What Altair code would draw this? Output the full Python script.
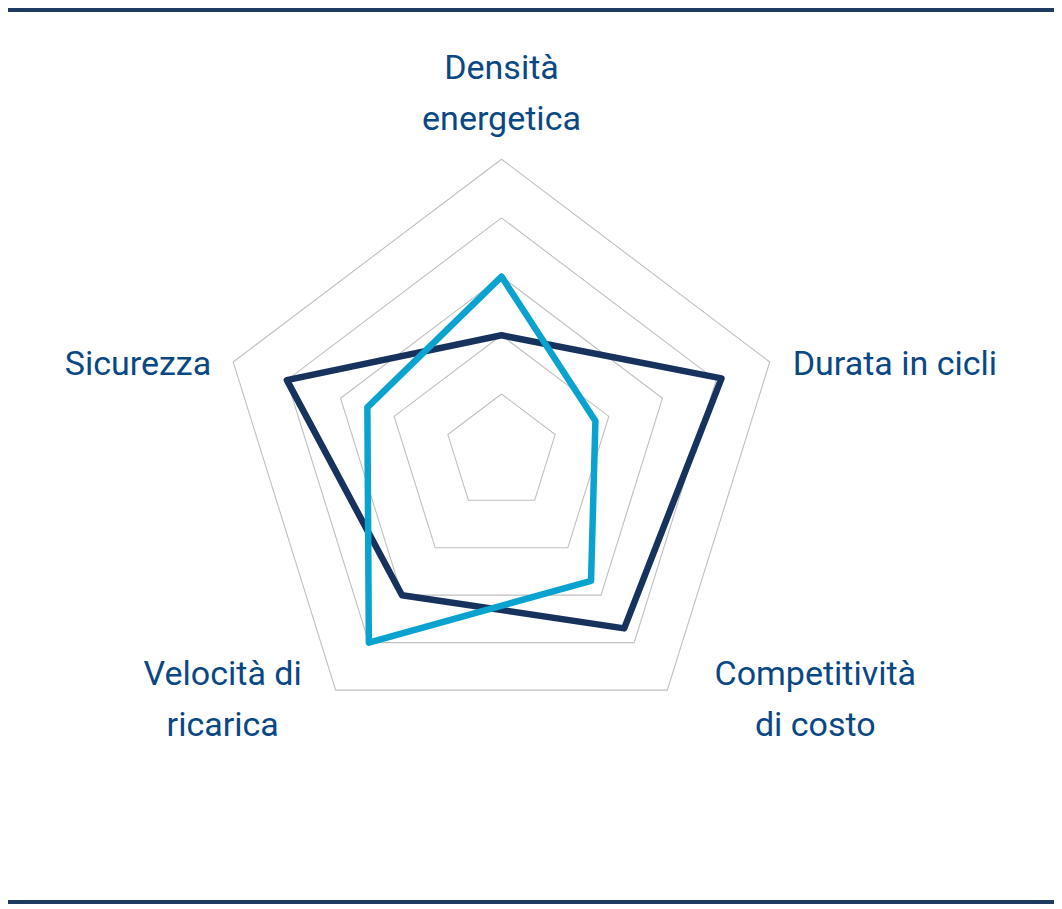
import math
import altair as alt
import pandas as pd

# ---- data ----
categories = ["Densità energetica", "Durata in cicli", "Competitività di costo",
              "Velocità di ricarica", "Sicurezza"]
label_text = ["Densità\nenergetica", "Durata in cicli", "Competitività\ndi costo",
              "Velocità di\nricarica", "Sicurezza"]
series_names = ["Serie A", "Serie B"]
series_a = [2.0, 4.1, 3.7, 3.0, 4.0]      # dark navy
series_b = [3.0, 1.75, 2.7, 4.0, 2.5]     # light blue
grid_levels = [1, 2, 3, 4, 5]

N = len(categories)

# ---- tables built from the arrays ----
rows = []
for name, vals in zip(series_names, [series_a, series_b]):
    for k in range(N + 1):
        rows.append({"series": name, "idx": k, "cat": categories[k % N],
                     "value": vals[k % N], "order": k})
series_df = pd.DataFrame(rows)

grid_rows = []
for lv in grid_levels:
    for k in range(N + 1):
        grid_rows.append({"level": lv, "idx": k, "value": lv, "order": k})
grid_df = pd.DataFrame(grid_rows)

label_df = pd.DataFrame({"idx": list(range(N)), "cat": categories,
                         "label": label_text, "value": [max(grid_levels)] * N})

# ---- geometry (scales) ----
W, H = 1046, 896
px_x = 56.42   # pixels per unit horizontally
px_y = 58.7    # pixels per unit vertically
cx, cy = 493.5, 444.7
xdom = [-cx / px_x, (W - cx) / px_x]
ydom = [-(H - cy) / px_y, cy / px_y]

xs = alt.Scale(domain=xdom, nice=False, zero=False)
ys = alt.Scale(domain=ydom, nice=False, zero=False)

def polar(ch):
    return ch.transform_calculate(
        ang=f"datum.idx * 2 * PI / {N}"
    ).transform_calculate(
        px="datum.value * sin(datum.ang)",
        py="datum.value * cos(datum.ang)",
    )

X = alt.X("px:Q", scale=xs, axis=None)
Y = alt.Y("py:Q", scale=ys, axis=None)

grid = polar(alt.Chart(grid_df)).mark_line(
    stroke="#c0c0c0", strokeWidth=1.1, strokeJoin="miter"
).encode(x=X, y=Y, detail="level:N", order="order:Q")

lines = polar(alt.Chart(series_df)).mark_line(
    strokeWidth=6.5, strokeJoin="round", strokeCap="round"
).encode(
    x=X, y=Y, order="order:Q",
    color=alt.Color("series:N", scale=alt.Scale(domain=series_names,
                                                range=["#17325d", "#0aa3cf"]),
                    legend=None),
)

LABEL_COLOR = "#0a4785"
FONT = "Roboto"
FS = 34
LH = 51

def label_layer(k, align, dx, dy):
    return polar(alt.Chart(label_df)).transform_filter(
        f"datum.idx == {k}"
    ).mark_text(
        align=align, baseline="alphabetic", dx=dx, dy=dy, font=FONT,
        fontSize=FS, lineHeight=LH, lineBreak="\n", color=LABEL_COLOR
    ).encode(x=X, y=Y, text="label:N")

labels = [
    label_layer(0, "center", 0, -80),
    label_layer(1, "left", 23, 13),
    label_layer(2, "center", 148, -5),
    label_layer(3, "center", -113, -5),
    label_layer(4, "right", -22, 13),
]

rule_df = pd.DataFrame({"pos": ["top", "bottom"]})
top_rule = alt.Chart(rule_df).transform_filter("datum.pos == 'top'").mark_rule(
    color="#1f3a62", strokeWidth=4
).encode(x=alt.value(0), x2=alt.value(W), y=alt.value(2))
bottom_rule = alt.Chart(rule_df).transform_filter("datum.pos == 'bottom'").mark_rule(
    color="#1f3a62", strokeWidth=4
).encode(x=alt.value(0), x2=alt.value(W), y=alt.value(894))

chart = alt.layer(grid, lines, *labels, top_rule, bottom_rule).properties(
    width=W, height=H,
    padding={"left": 0, "top": 0, "right": 0, "bottom": 0},
    autosize=alt.AutoSizeParams(type="none"),
    background="white",
).configure_view(stroke=None)

chart.save("out.html", embed_options={"renderer": "svg", "actions": False})
